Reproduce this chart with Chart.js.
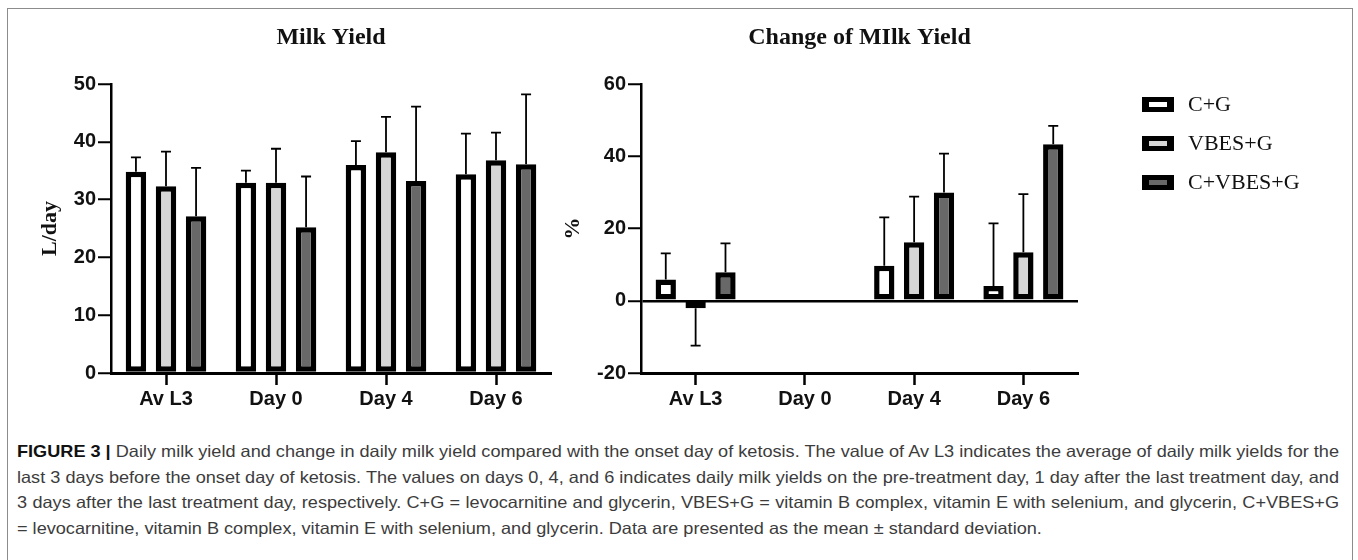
<!DOCTYPE html>
<html>
<head>
<meta charset="utf-8">
<script src="https://cdn.jsdelivr.net/npm/chart.js@4.4.1/dist/chart.umd.min.js"></script>
<style>
  html, body { margin: 0; padding: 0; background: #fff; }
  body { width: 1358px; height: 560px; position: relative; overflow: hidden; }
  #frame { position: absolute; left: 7px; top: 8px; width: 1346px; height: 560px;
           border: 1.5px solid #8c8c8c; box-sizing: border-box; }
  #left { position: absolute; left: 0; top: 0; }
  #right { position: absolute; left: 560px; top: 0; }
  .legend-item { position: absolute; left: 1142px; height: 30px; display: flex; align-items: center;
                 font-family: 'Liberation Serif', 'Times New Roman', serif; font-size: 22px; color: #111; }
  .legend-box { width: 32px; height: 15px; box-sizing: border-box; border: solid #000;
                border-width: 5px 7px; margin-right: 14px; }
  #caption { position: absolute; left: 17px; top: 439px;
             font-family: 'Liberation Sans', Arial, sans-serif; font-size: 16.5px; color: #3c3c3c;
             line-height: 25.5px; transform-origin: 0 0; }
  #caption .line { white-space: nowrap; }
  #caption .just { text-align: justify; text-align-last: justify; }
  #caption b { color: #111; }
</style>
</head>
<body>
<div id="frame"></div>
<canvas id="left" width="560" height="420"></canvas>
<canvas id="right" width="798" height="420"></canvas>
<div id="legend"></div>
<div id="caption">
  <div class="line just"><span><b>FIGURE 3 |</b> Daily milk yield and change in daily milk yield compared with the onset day of ketosis. The value of Av L3 indicates the average of daily milk yields for the</span></div>
  <div class="line just"><span>last 3 days before the onset day of ketosis. The values on days 0, 4, and 6 indicates daily milk yields on the pre-treatment day, 1 day after the last treatment day, and</span></div>
  <div class="line just"><span>3 days after the last treatment day, respectively. C+G = levocarnitine and glycerin, VBES+G = vitamin B complex, vitamin E with selenium, and glycerin, C+VBES+G</span></div>
  <div class="line"><span>= levocarnitine, vitamin B complex, vitamin E with selenium, and glycerin. Data are presented as the mean ± standard deviation.</span></div>
</div>
<script>
const categories = ['Av L3', 'Day 0', 'Day 4', 'Day 6'];
const groups = ['C+G', 'VBES+G', 'C+VBES+G'];
const fills = ['#ffffff', '#d6d6d6', '#686868'];

// Milk Yield, L/day (mean and SD)
const yieldCG = [34.8, 32.9, 36.0, 34.4];
const yieldVBES = [32.3, 32.9, 38.2, 36.8];
const yieldCVBES = [27.1, 25.2, 33.2, 36.1];
const yieldCGsd = [2.5, 2.1, 4.1, 7.0];
const yieldVBESsd = [6.0, 5.9, 6.1, 4.8];
const yieldCVBESsd = [8.4, 8.8, 12.9, 12.1];

// Change of milk yield, % (mean and SD)
const changeCG = [5.9, 0, 9.7, 4.1];
const changeVBES = [-2.1, 0, 16.2, 13.4];
const changeCVBES = [7.9, 0, 30.0, 43.3];
const changeCGsd = [7.2, 0, 13.4, 17.3];
const changeVBESsd = [10.3, 0, 12.6, 16.1];
const changeCVBESsd = [8.0, 0, 10.7, 5.1];

const yieldTicks = [0, 10, 20, 30, 40, 50];
const changeTicks = [-20, 0, 20, 40, 60];

// error bars drawn from each bar's top outwards
const errorBars = {
    id: 'errorBars',
    afterDatasetsDraw(chart) {
        const ctx = chart.ctx;
        const y = chart.scales.y;
        ctx.save();
        ctx.strokeStyle = '#000';
        ctx.lineWidth = 1.8;
        chart.data.datasets.forEach(function (ds, i) {
            chart.getDatasetMeta(i).data.forEach(function (bar, j) {
                const v = ds.data[j];
                const sd = ds.errors[j];
                if (!sd) return;
                const end = y.getPixelForValue(v < 0 ? v - sd : v + sd);
                ctx.beginPath();
                ctx.moveTo(bar.x, bar.y);
                ctx.lineTo(bar.x, end);
                ctx.moveTo(bar.x - 5, end);
                ctx.lineTo(bar.x + 5, end);
                ctx.stroke();
            });
        });
        ctx.restore();
    }
};

function makeDatasets(values, errors) {
    return values.map(function (vals, i) {
        return {
            label: groups[i],
            data: vals,
            errors: errors[i],
            backgroundColor: fills[i],
            borderColor: '#000',
            borderWidth: 5.5,
            borderSkipped: false,
            barPercentage: 0.68,
            categoryPercentage: 0.82
        };
    });
}

function makeOptions(title, yTitle, yTitlePad, min, max, ticks, zeroLine, axisWidth, rightPad) {
    return {
        responsive: false,
        animation: false,
        layout: { padding: { top: 0, right: rightPad, bottom: 0, left: 0 } },
        plugins: {
            legend: { display: false },
            tooltip: { enabled: false },
            title: {
                display: true,
                text: title,
                fullSize: false,
                color: '#111',
                font: { family: 'Liberation Serif', weight: 'bold', size: 24 },
                padding: { top: 23.6, bottom: 31.6 }
            }
        },
        scales: {
            x: {
                offset: true,
                grid: { offset: false, drawOnChartArea: false, tickLength: 12, tickColor: '#000', tickWidth: 2.5 },
                border: { color: '#000', width: 3 },
                ticks: { color: '#111', padding: 2, font: { family: 'Liberation Sans', weight: 'bold', size: 20 } },
                afterFit: function (scale) { scale.height = 47; }
            },
            y: {
                min: min,
                max: max,
                afterBuildTicks: function (scale) {
                    scale.ticks = ticks.map(function (v) { return { value: v }; });
                },
                grid: {
                    drawOnChartArea: zeroLine,
                    color: function (c) { return c.tick && c.tick.value === 0 ? '#000' : 'rgba(0,0,0,0)'; },
                    lineWidth: 2.5,
                    tickLength: 13,
                    tickColor: '#000',
                    tickWidth: 2
                },
                border: { color: '#000', width: 2.5 },
                ticks: { color: '#111', padding: 2, font: { family: 'Liberation Sans', weight: 'bold', size: 20 } },
                title: {
                    display: true,
                    text: yTitle,
                    color: '#111',
                    font: { family: 'Liberation Serif', weight: 'bold', size: 22 },
                    padding: { top: yTitlePad }
                },
                afterFit: function (scale) { scale.width = axisWidth; }
            }
        }
    };
}

new Chart(document.getElementById('left'), {
    type: 'bar',
    data: {
        labels: categories,
        datasets: makeDatasets([yieldCG, yieldVBES, yieldCVBES], [yieldCGsd, yieldVBESsd, yieldCVBESsd])
    },
    options: makeOptions('Milk Yield', 'L/day', 37, 0, 50, yieldTicks, false, 111, 9),
    plugins: [errorBars]
});

new Chart(document.getElementById('right'), {
    type: 'bar',
    data: {
        labels: categories,
        datasets: makeDatasets([changeCG, changeVBES, changeCVBES], [changeCGsd, changeVBESsd, changeCVBESsd])
    },
    options: makeOptions('Change of MIlk Yield', '%', 0, -20, 60, changeTicks, true, 81, 280),
    plugins: [errorBars]
});

// legend
const legendTops = [104, 143, 182];
const legend = document.getElementById('legend');
groups.forEach(function (name, i) {
    const item = document.createElement('div');
    item.className = 'legend-item';
    item.style.top = (legendTops[i] - 15) + 'px';
    const box = document.createElement('span');
    box.className = 'legend-box';
    box.style.background = fills[i];
    item.appendChild(box);
    item.appendChild(document.createTextNode(name));
    legend.appendChild(item);
});

// squeeze the caption horizontally so its lines fill the frame width
const caption = document.getElementById('caption');
let widest = 0;
caption.querySelectorAll('.line span').forEach(function (s) {
    widest = Math.max(widest, s.getBoundingClientRect().width);
});
caption.querySelectorAll('.line').forEach(function (l) { l.style.width = widest + 'px'; });
caption.style.transform = 'scaleX(' + (1322 / widest) + ')';
</script>
</body>
</html>
